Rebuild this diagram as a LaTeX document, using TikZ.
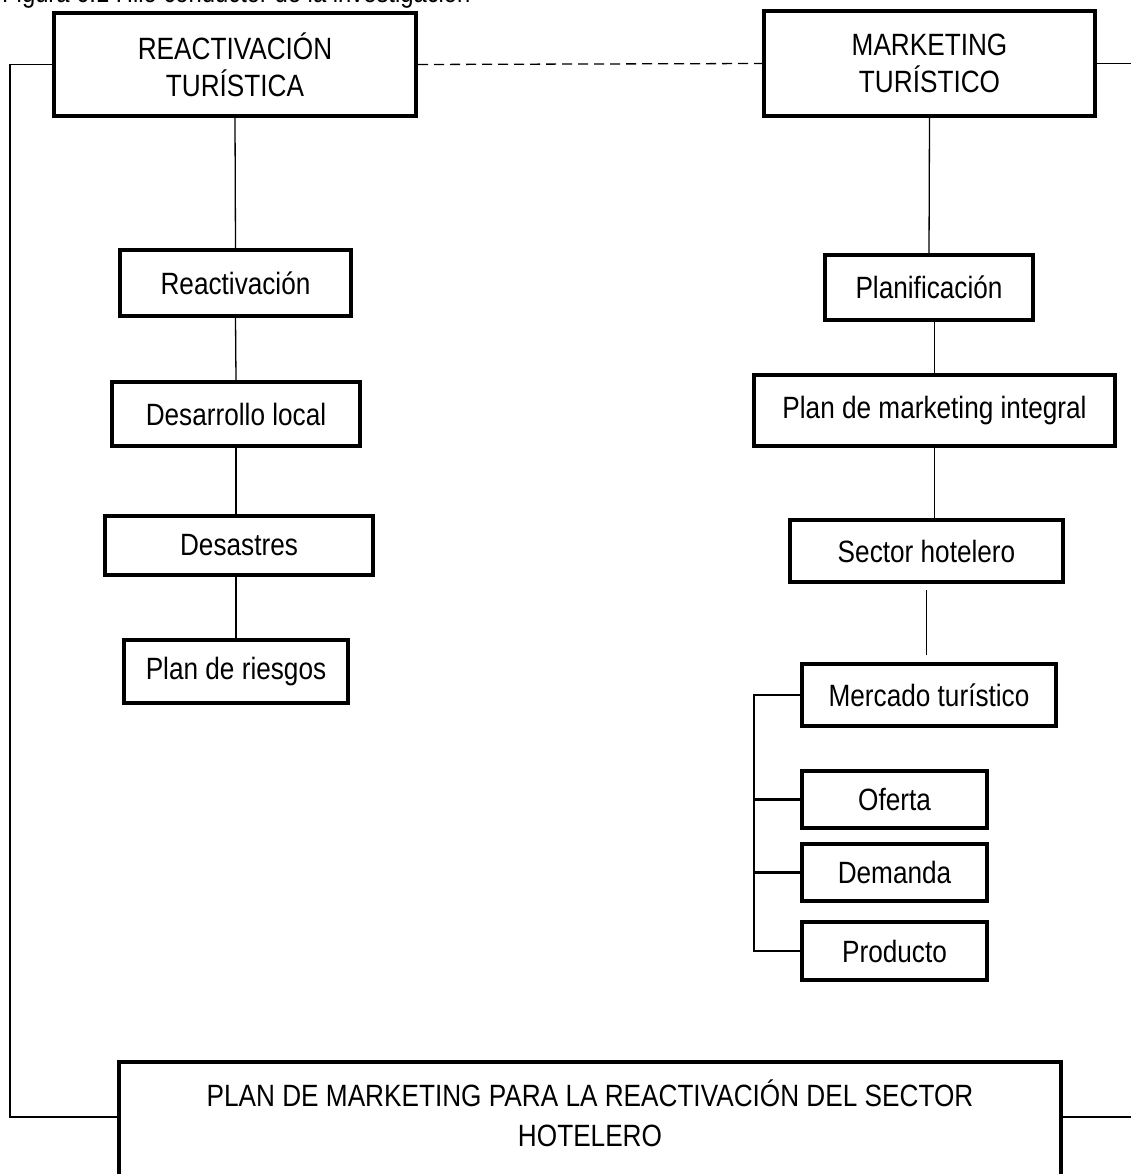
\documentclass[tikz,border=0pt]{standalone}
\usepackage{fontspec}
\setmainfont{Liberation Sans}[FakeStretch=0.85]
\begin{document}
\begin{tikzpicture}[x=1pt,y=-1pt,
  box/.style={draw=black, line width=4pt, rectangle, inner sep=0pt, align=center,
    font=\fontsize{30.8}{37}\selectfont},
  conn/.style={draw=black, line width=1.3pt},
  brk/.style={draw=black, line width=2.2pt},
  capt/.style={font=\fontsize{28}{34}\selectfont, anchor=base west, inner sep=0pt}]
\useasboundingbox (0,0) rectangle (1131,1174);
\clip (0,0) rectangle (1131,1174);
\node[capt] (cap) at (2,3) {Figura 6.1 Hilo conductor de la investigación};
% top boxes
\node[box, minimum width=362, minimum height=103] (rt) at (235,64.5) {REACTIVACIÓN\\TURÍSTICA};
\node[box, minimum width=331, minimum height=105] (mt) at (929.5,63.5) {MARKETING\\TURÍSTICO};
% left chain
\node[box, minimum width=231, minimum height=66] (reac) at (235.5,283) {Reactivación};
\node[box, minimum width=248, minimum height=64] (desl) at (236,414) {Desarrollo local};
\node[box, minimum width=268, minimum height=59] (desa) at (239,545.5) {Desastres};
\node[box, minimum width=224, minimum height=63] (plr) at (236,671.5) {Plan de riesgos};
% right chain
\node[box, minimum width=208, minimum height=65] (planif) at (929,287.5) {Planificación};
\node[box, minimum width=361, minimum height=71] (pmi) at (934.5,410.5) {Plan de marketing integral};
\node[box, minimum width=273, minimum height=62] (sect) at (926.5,551) {Sector hotelero};
\node[box, minimum width=254, minimum height=62] (merc) at (929,695) {Mercado turístico};
\node[box, minimum width=185, minimum height=57] (ofer) at (894.5,799.5) {Oferta};
\node[box, minimum width=185, minimum height=57] (dema) at (894.5,872.5) {Demanda};
\node[box, minimum width=185, minimum height=58] (prod) at (894.5,951) {Producto};
% bottom box
\node[box, minimum width=942, minimum height=160, anchor=north] (plan) at (590,1060) {};
\node[align=center, inner sep=0pt, font=\fontsize{30.8}{40}\selectfont] (plantxt) at (590,1113)
  {PLAN DE MARKETING PARA LA REACTIVACIÓN DEL SECTOR\\HOTELERO};
% coordinates for free ends
\coordinate (lc) at (10,1117);
\coordinate (rtop) at (1131,63.5);
\coordinate (rbot) at (1131,1117);
% connectors
\draw[conn, dashed, dash pattern=on 10pt off 6pt] (rt.east) -- (mt.west);
\draw[conn] (rt.west) -| (lc) -- (lc -| plan.west);
\draw[conn] (mt.east) -- (rtop);
\draw[conn] (rbot -| plan.east) -- (rbot);
\draw[conn] (rt.south) -- (reac.north);
\draw[conn] (reac.south) -- (desl.north);
\draw[conn] (desl.south) -- (desl.south |- desa.north);
\draw[conn] (desa.south -| desl.south) -- (plr.north);
\draw[conn] (mt.south) -- (planif.north);
\draw[conn] (pmi.north) -- (pmi.north |- planif.south);
\draw[conn] (pmi.south) -- (pmi.south |- sect.north);
\draw[conn, shorten <=6pt, shorten >=7pt] (sect.south) -- (sect.south |- merc.north);
\draw[brk] (merc.west) -- ++(-46,0) |- (prod.west);
\draw[brk] (ofer.west) -- ++(-46,0);
\draw[brk] (dema.west) -- ++(-46,0);
\end{tikzpicture}
\end{document}
